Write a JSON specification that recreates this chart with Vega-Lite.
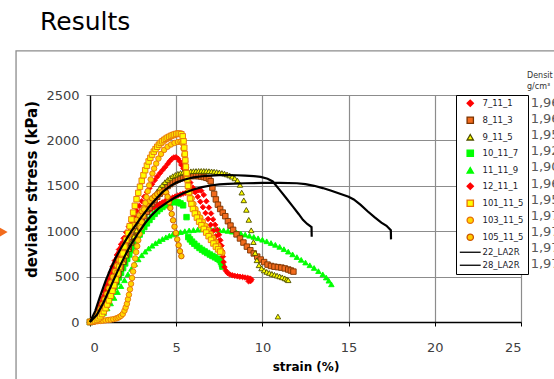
{
"$schema":"https://vega.github.io/schema/vega-lite/v6.json",
"width":431,"height":227,
"autosize":"none",
"padding":{"left":90,"top":95,"right":33,"bottom":57},
"title":{"text":"Results","anchor":"start","frame":"group","dx":-50,"offset":15,"fontSize":25,"font":"DejaVu Sans","fontWeight":"normal","color":"#000000"},
"datasets":{
"pts":[
{"s":"11_11_9","x":0,"y":0},{"s":"11_11_9","x":0.2,"y":10},{"s":"11_11_9","x":0.4,"y":30},{"s":"11_11_9","x":0.6,"y":60},{"s":"11_11_9","x":0.8,"y":100},{"s":"11_11_9","x":1.0,"y":150},{"s":"11_11_9","x":1.2,"y":205},{"s":"11_11_9","x":1.4,"y":265},{"s":"11_11_9","x":1.6,"y":330},{"s":"11_11_9","x":1.8,"y":395},{"s":"11_11_9","x":2.0,"y":460},{"s":"11_11_9","x":2.2,"y":525},{"s":"11_11_9","x":2.4,"y":585},{"s":"11_11_9","x":2.6,"y":640},{"s":"11_11_9","x":2.8,"y":690},{"s":"11_11_9","x":3.0,"y":735},{"s":"11_11_9","x":3.2,"y":775},{"s":"11_11_9","x":3.4,"y":810},{"s":"11_11_9","x":3.6,"y":840},{"s":"11_11_9","x":3.8,"y":868},{"s":"11_11_9","x":4.0,"y":892},{"s":"11_11_9","x":4.2,"y":914},{"s":"11_11_9","x":4.4,"y":933},{"s":"11_11_9","x":4.6,"y":950},{"s":"11_11_9","x":4.8,"y":964},{"s":"11_11_9","x":5.0,"y":977},{"s":"11_11_9","x":5.25,"y":990},{"s":"11_11_9","x":5.5,"y":1000},{"s":"11_11_9","x":5.75,"y":1008},{"s":"11_11_9","x":6.0,"y":1013},{"s":"11_11_9","x":6.25,"y":1017},{"s":"11_11_9","x":6.5,"y":1019},{"s":"11_11_9","x":6.75,"y":1020},{"s":"11_11_9","x":7.0,"y":1020},{"s":"11_11_9","x":7.25,"y":1018},{"s":"11_11_9","x":7.5,"y":1015},{"s":"11_11_9","x":7.75,"y":1010},{"s":"11_11_9","x":8.0,"y":1003},{"s":"11_11_9","x":8.25,"y":995},{"s":"11_11_9","x":8.5,"y":985},{"s":"11_11_9","x":8.75,"y":975},{"s":"11_11_9","x":9.0,"y":963},{"s":"11_11_9","x":9.25,"y":950},{"s":"11_11_9","x":9.5,"y":937},{"s":"11_11_9","x":9.75,"y":922},{"s":"11_11_9","x":10.0,"y":906},{"s":"11_11_9","x":10.25,"y":889},{"s":"11_11_9","x":10.5,"y":870},{"s":"11_11_9","x":10.75,"y":850},{"s":"11_11_9","x":11.0,"y":828},{"s":"11_11_9","x":11.25,"y":802},{"s":"11_11_9","x":11.5,"y":775},{"s":"11_11_9","x":11.75,"y":745},{"s":"11_11_9","x":12.0,"y":715},{"s":"11_11_9","x":12.25,"y":685},{"s":"11_11_9","x":12.5,"y":655},{"s":"11_11_9","x":12.75,"y":625},{"s":"11_11_9","x":13.0,"y":595},{"s":"11_11_9","x":13.25,"y":560},{"s":"11_11_9","x":13.5,"y":525},{"s":"11_11_9","x":13.7,"y":490},{"s":"11_11_9","x":13.85,"y":455},{"s":"11_11_9","x":14.0,"y":415},
{"s":"10_11_7","x":0,"y":0},{"s":"10_11_7","x":0.12,"y":5},{"s":"10_11_7","x":0.24,"y":15},{"s":"10_11_7","x":0.36,"y":30},{"s":"10_11_7","x":0.48,"y":52},{"s":"10_11_7","x":0.6,"y":80},{"s":"10_11_7","x":0.72,"y":113},{"s":"10_11_7","x":0.84,"y":150},{"s":"10_11_7","x":0.96,"y":192},{"s":"10_11_7","x":1.08,"y":237},{"s":"10_11_7","x":1.2,"y":285},{"s":"10_11_7","x":1.32,"y":335},{"s":"10_11_7","x":1.44,"y":386},{"s":"10_11_7","x":1.56,"y":438},{"s":"10_11_7","x":1.68,"y":490},{"s":"10_11_7","x":1.8,"y":542},{"s":"10_11_7","x":1.92,"y":594},{"s":"10_11_7","x":2.04,"y":645},{"s":"10_11_7","x":2.16,"y":695},{"s":"10_11_7","x":2.28,"y":744},{"s":"10_11_7","x":2.4,"y":791},{"s":"10_11_7","x":2.52,"y":837},{"s":"10_11_7","x":2.64,"y":881},{"s":"10_11_7","x":2.76,"y":923},{"s":"10_11_7","x":2.88,"y":963},{"s":"10_11_7","x":3.0,"y":1001},{"s":"10_11_7","x":3.15,"y":1045},{"s":"10_11_7","x":3.3,"y":1086},{"s":"10_11_7","x":3.45,"y":1124},{"s":"10_11_7","x":3.6,"y":1159},{"s":"10_11_7","x":3.75,"y":1191},{"s":"10_11_7","x":3.9,"y":1220},{"s":"10_11_7","x":4.05,"y":1245},{"s":"10_11_7","x":4.2,"y":1267},{"s":"10_11_7","x":4.35,"y":1286},{"s":"10_11_7","x":4.5,"y":1301},{"s":"10_11_7","x":4.65,"y":1313},{"s":"10_11_7","x":4.8,"y":1320},{"s":"10_11_7","x":4.95,"y":1322},{"s":"10_11_7","x":5.1,"y":1318},{"s":"10_11_7","x":5.25,"y":1306},{"s":"10_11_7","x":5.4,"y":1285},{"s":"10_11_7","x":5.6,"y":1155},{"s":"10_11_7","x":5.7,"y":935},{"s":"10_11_7","x":5.8,"y":910},{"s":"10_11_7","x":5.92,"y":885},{"s":"10_11_7","x":6.05,"y":862},{"s":"10_11_7","x":6.2,"y":838},{"s":"10_11_7","x":6.35,"y":815},{"s":"10_11_7","x":6.5,"y":795},{"s":"10_11_7","x":6.65,"y":777},{"s":"10_11_7","x":6.8,"y":760},{"s":"10_11_7","x":6.95,"y":743},{"s":"10_11_7","x":7.1,"y":727},{"s":"10_11_7","x":7.25,"y":712},{"s":"10_11_7","x":7.4,"y":697},{"s":"10_11_7","x":7.52,"y":682},{"s":"10_11_7","x":7.6,"y":660},{"s":"10_11_7","x":7.65,"y":635},{"s":"10_11_7","x":7.68,"y":610},
{"s":"12_11_1","x":0,"y":0},{"s":"12_11_1","x":0.12,"y":15},{"s":"12_11_1","x":0.24,"y":40},{"s":"12_11_1","x":0.36,"y":75},{"s":"12_11_1","x":0.48,"y":120},{"s":"12_11_1","x":0.6,"y":175},{"s":"12_11_1","x":0.72,"y":235},{"s":"12_11_1","x":0.84,"y":300},{"s":"12_11_1","x":0.96,"y":370},{"s":"12_11_1","x":1.08,"y":440},{"s":"12_11_1","x":1.2,"y":510},{"s":"12_11_1","x":1.32,"y":578},{"s":"12_11_1","x":1.44,"y":645},{"s":"12_11_1","x":1.56,"y":708},{"s":"12_11_1","x":1.68,"y":768},{"s":"12_11_1","x":1.8,"y":823},{"s":"12_11_1","x":1.95,"y":885},{"s":"12_11_1","x":2.1,"y":940},{"s":"12_11_1","x":2.25,"y":988},{"s":"12_11_1","x":2.4,"y":1030},{"s":"12_11_1","x":2.55,"y":1068},{"s":"12_11_1","x":2.7,"y":1102},{"s":"12_11_1","x":2.85,"y":1132},{"s":"12_11_1","x":3.0,"y":1160},{"s":"12_11_1","x":3.15,"y":1185},{"s":"12_11_1","x":3.3,"y":1208},{"s":"12_11_1","x":3.45,"y":1230},{"s":"12_11_1","x":3.6,"y":1250},{"s":"12_11_1","x":3.75,"y":1268},{"s":"12_11_1","x":3.9,"y":1285},{"s":"12_11_1","x":4.05,"y":1301},{"s":"12_11_1","x":4.2,"y":1316},{"s":"12_11_1","x":4.35,"y":1330},{"s":"12_11_1","x":4.5,"y":1344},{"s":"12_11_1","x":4.65,"y":1357},{"s":"12_11_1","x":4.8,"y":1370},{"s":"12_11_1","x":4.95,"y":1382},{"s":"12_11_1","x":5.1,"y":1393},{"s":"12_11_1","x":5.25,"y":1404},{"s":"12_11_1","x":5.4,"y":1414},{"s":"12_11_1","x":5.55,"y":1423},{"s":"12_11_1","x":5.7,"y":1431},{"s":"12_11_1","x":5.85,"y":1438},{"s":"12_11_1","x":6.0,"y":1444},{"s":"12_11_1","x":6.15,"y":1448},{"s":"12_11_1","x":6.3,"y":1450},{"s":"12_11_1","x":6.45,"y":1446},{"s":"12_11_1","x":6.6,"y":1400},{"s":"12_11_1","x":6.75,"y":1330},{"s":"12_11_1","x":6.9,"y":1260},{"s":"12_11_1","x":7.02,"y":1195},{"s":"12_11_1","x":7.14,"y":1130},{"s":"12_11_1","x":7.26,"y":1070},{"s":"12_11_1","x":7.38,"y":1015},{"s":"12_11_1","x":7.48,"y":960},{"s":"12_11_1","x":7.56,"y":900},{"s":"12_11_1","x":7.62,"y":840},{"s":"12_11_1","x":7.67,"y":780},{"s":"12_11_1","x":7.71,"y":720},{"s":"12_11_1","x":7.75,"y":660},{"s":"12_11_1","x":7.8,"y":605},{"s":"12_11_1","x":7.88,"y":565},{"s":"12_11_1","x":7.98,"y":540},{"s":"12_11_1","x":8.1,"y":525},{"s":"12_11_1","x":8.25,"y":515},{"s":"12_11_1","x":8.4,"y":508},{"s":"12_11_1","x":8.55,"y":503},{"s":"12_11_1","x":8.7,"y":499},{"s":"12_11_1","x":8.85,"y":495},{"s":"12_11_1","x":9.0,"y":490},{"s":"12_11_1","x":9.15,"y":485},{"s":"12_11_1","x":9.28,"y":478},{"s":"12_11_1","x":9.36,"y":468},{"s":"12_11_1","x":9.32,"y":452},{"s":"12_11_1","x":9.2,"y":448},
{"s":"7_11_1","x":0,"y":0},{"s":"7_11_1","x":0.12,"y":20},{"s":"7_11_1","x":0.24,"y":50},{"s":"7_11_1","x":0.36,"y":90},{"s":"7_11_1","x":0.48,"y":140},{"s":"7_11_1","x":0.6,"y":200},{"s":"7_11_1","x":0.72,"y":265},{"s":"7_11_1","x":0.84,"y":335},{"s":"7_11_1","x":0.96,"y":405},{"s":"7_11_1","x":1.08,"y":475},{"s":"7_11_1","x":1.2,"y":545},{"s":"7_11_1","x":1.32,"y":612},{"s":"7_11_1","x":1.44,"y":676},{"s":"7_11_1","x":1.56,"y":738},{"s":"7_11_1","x":1.68,"y":798},{"s":"7_11_1","x":1.8,"y":855},{"s":"7_11_1","x":1.95,"y":922},{"s":"7_11_1","x":2.1,"y":987},{"s":"7_11_1","x":2.25,"y":1050},{"s":"7_11_1","x":2.4,"y":1110},{"s":"7_11_1","x":2.55,"y":1168},{"s":"7_11_1","x":2.7,"y":1224},{"s":"7_11_1","x":2.85,"y":1278},{"s":"7_11_1","x":3.0,"y":1330},{"s":"7_11_1","x":3.15,"y":1380},{"s":"7_11_1","x":3.3,"y":1428},{"s":"7_11_1","x":3.45,"y":1474},{"s":"7_11_1","x":3.6,"y":1518},{"s":"7_11_1","x":3.75,"y":1560},{"s":"7_11_1","x":3.9,"y":1600},{"s":"7_11_1","x":4.05,"y":1637},{"s":"7_11_1","x":4.2,"y":1672},{"s":"7_11_1","x":4.35,"y":1705},{"s":"7_11_1","x":4.5,"y":1740},{"s":"7_11_1","x":4.62,"y":1770},{"s":"7_11_1","x":4.74,"y":1795},{"s":"7_11_1","x":4.86,"y":1812},{"s":"7_11_1","x":4.98,"y":1815},{"s":"7_11_1","x":5.1,"y":1800},{"s":"7_11_1","x":5.2,"y":1770},{"s":"7_11_1","x":5.3,"y":1730},{"s":"7_11_1","x":5.42,"y":1690},{"s":"7_11_1","x":5.55,"y":1640},{"s":"7_11_1","x":5.68,"y":1590},{"s":"7_11_1","x":5.82,"y":1535},{"s":"7_11_1","x":5.96,"y":1480},{"s":"7_11_1","x":6.1,"y":1430},{"s":"7_11_1","x":6.25,"y":1380},{"s":"7_11_1","x":6.4,"y":1325},{"s":"7_11_1","x":6.55,"y":1265},{"s":"7_11_1","x":6.7,"y":1200},{"s":"7_11_1","x":6.85,"y":1135},{"s":"7_11_1","x":7.0,"y":1070},{"s":"7_11_1","x":7.15,"y":1005},{"s":"7_11_1","x":7.3,"y":945},{"s":"7_11_1","x":7.45,"y":890},{"s":"7_11_1","x":7.6,"y":840},
{"s":"8_11_3","x":0,"y":0},{"s":"8_11_3","x":0.15,"y":8},{"s":"8_11_3","x":0.3,"y":25},{"s":"8_11_3","x":0.45,"y":52},{"s":"8_11_3","x":0.6,"y":90},{"s":"8_11_3","x":0.75,"y":138},{"s":"8_11_3","x":0.9,"y":194},{"s":"8_11_3","x":1.05,"y":256},{"s":"8_11_3","x":1.2,"y":322},{"s":"8_11_3","x":1.35,"y":392},{"s":"8_11_3","x":1.5,"y":463},{"s":"8_11_3","x":1.65,"y":535},{"s":"8_11_3","x":1.8,"y":606},{"s":"8_11_3","x":1.95,"y":676},{"s":"8_11_3","x":2.1,"y":745},{"s":"8_11_3","x":2.25,"y":812},{"s":"8_11_3","x":2.4,"y":877},{"s":"8_11_3","x":2.55,"y":940},{"s":"8_11_3","x":2.7,"y":1000},{"s":"8_11_3","x":2.85,"y":1057},{"s":"8_11_3","x":3.0,"y":1112},{"s":"8_11_3","x":3.15,"y":1164},{"s":"8_11_3","x":3.3,"y":1213},{"s":"8_11_3","x":3.45,"y":1259},{"s":"8_11_3","x":3.6,"y":1302},{"s":"8_11_3","x":3.75,"y":1342},{"s":"8_11_3","x":3.9,"y":1379},{"s":"8_11_3","x":4.05,"y":1413},{"s":"8_11_3","x":4.2,"y":1444},{"s":"8_11_3","x":4.35,"y":1472},{"s":"8_11_3","x":4.5,"y":1497},{"s":"8_11_3","x":4.65,"y":1519},{"s":"8_11_3","x":4.8,"y":1539},{"s":"8_11_3","x":4.95,"y":1556},{"s":"8_11_3","x":5.1,"y":1570},{"s":"8_11_3","x":5.25,"y":1582},{"s":"8_11_3","x":5.4,"y":1592},{"s":"8_11_3","x":5.55,"y":1599},{"s":"8_11_3","x":5.7,"y":1604},{"s":"8_11_3","x":5.85,"y":1607},{"s":"8_11_3","x":6.0,"y":1608},{"s":"8_11_3","x":6.15,"y":1608},{"s":"8_11_3","x":6.3,"y":1606},{"s":"8_11_3","x":6.45,"y":1602},{"s":"8_11_3","x":6.6,"y":1596},{"s":"8_11_3","x":6.75,"y":1588},{"s":"8_11_3","x":6.9,"y":1576},{"s":"8_11_3","x":7.0,"y":1550},{"s":"8_11_3","x":7.1,"y":1480},{"s":"8_11_3","x":7.2,"y":1410},{"s":"8_11_3","x":7.3,"y":1350},{"s":"8_11_3","x":7.42,"y":1292},{"s":"8_11_3","x":7.55,"y":1245},{"s":"8_11_3","x":7.7,"y":1205},{"s":"8_11_3","x":7.85,"y":1165},{"s":"8_11_3","x":8.0,"y":1110},{"s":"8_11_3","x":8.15,"y":1062},{"s":"8_11_3","x":8.3,"y":1015},{"s":"8_11_3","x":8.5,"y":965},{"s":"8_11_3","x":8.7,"y":920},{"s":"8_11_3","x":8.9,"y":875},{"s":"8_11_3","x":9.1,"y":830},{"s":"8_11_3","x":9.3,"y":790},{"s":"8_11_3","x":9.5,"y":755},{"s":"8_11_3","x":9.7,"y":720},{"s":"8_11_3","x":9.9,"y":688},{"s":"8_11_3","x":10.1,"y":660},{"s":"8_11_3","x":10.3,"y":632},{"s":"8_11_3","x":10.5,"y":617},{"s":"8_11_3","x":10.7,"y":609},{"s":"8_11_3","x":10.9,"y":604},{"s":"8_11_3","x":11.1,"y":599},{"s":"8_11_3","x":11.3,"y":590},{"s":"8_11_3","x":11.5,"y":578},{"s":"8_11_3","x":11.65,"y":567},{"s":"8_11_3","x":11.8,"y":555},
{"s":"9_11_5","x":0,"y":0},{"s":"9_11_5","x":0.15,"y":10},{"s":"9_11_5","x":0.3,"y":28},{"s":"9_11_5","x":0.45,"y":55},{"s":"9_11_5","x":0.6,"y":92},{"s":"9_11_5","x":0.75,"y":138},{"s":"9_11_5","x":0.9,"y":190},{"s":"9_11_5","x":1.05,"y":248},{"s":"9_11_5","x":1.2,"y":310},{"s":"9_11_5","x":1.35,"y":376},{"s":"9_11_5","x":1.5,"y":445},{"s":"9_11_5","x":1.65,"y":516},{"s":"9_11_5","x":1.8,"y":588},{"s":"9_11_5","x":1.95,"y":660},{"s":"9_11_5","x":2.1,"y":732},{"s":"9_11_5","x":2.25,"y":804},{"s":"9_11_5","x":2.4,"y":874},{"s":"9_11_5","x":2.55,"y":942},{"s":"9_11_5","x":2.7,"y":1008},{"s":"9_11_5","x":2.85,"y":1072},{"s":"9_11_5","x":3.0,"y":1133},{"s":"9_11_5","x":3.15,"y":1192},{"s":"9_11_5","x":3.3,"y":1248},{"s":"9_11_5","x":3.45,"y":1301},{"s":"9_11_5","x":3.6,"y":1350},{"s":"9_11_5","x":3.75,"y":1396},{"s":"9_11_5","x":3.9,"y":1438},{"s":"9_11_5","x":4.05,"y":1476},{"s":"9_11_5","x":4.2,"y":1510},{"s":"9_11_5","x":4.35,"y":1540},{"s":"9_11_5","x":4.5,"y":1566},{"s":"9_11_5","x":4.65,"y":1588},{"s":"9_11_5","x":4.8,"y":1606},{"s":"9_11_5","x":4.95,"y":1620},{"s":"9_11_5","x":5.1,"y":1632},{"s":"9_11_5","x":5.25,"y":1641},{"s":"9_11_5","x":5.4,"y":1648},{"s":"9_11_5","x":5.55,"y":1653},{"s":"9_11_5","x":5.7,"y":1657},{"s":"9_11_5","x":5.85,"y":1660},{"s":"9_11_5","x":6.0,"y":1662},{"s":"9_11_5","x":6.15,"y":1663},{"s":"9_11_5","x":6.3,"y":1664},{"s":"9_11_5","x":6.45,"y":1664},{"s":"9_11_5","x":6.6,"y":1664},{"s":"9_11_5","x":6.75,"y":1663},{"s":"9_11_5","x":6.9,"y":1661},{"s":"9_11_5","x":7.05,"y":1659},{"s":"9_11_5","x":7.2,"y":1656},{"s":"9_11_5","x":7.35,"y":1652},{"s":"9_11_5","x":7.5,"y":1647},{"s":"9_11_5","x":7.65,"y":1641},{"s":"9_11_5","x":7.8,"y":1634},{"s":"9_11_5","x":7.95,"y":1625},{"s":"9_11_5","x":8.1,"y":1614},{"s":"9_11_5","x":8.25,"y":1600},{"s":"9_11_5","x":8.4,"y":1582},{"s":"9_11_5","x":8.55,"y":1558},{"s":"9_11_5","x":8.7,"y":1510},{"s":"9_11_5","x":8.8,"y":1425},{"s":"9_11_5","x":8.92,"y":1340},{"s":"9_11_5","x":9.07,"y":1235},{"s":"9_11_5","x":9.21,"y":1125},{"s":"9_11_5","x":9.35,"y":1010},{"s":"9_11_5","x":9.48,"y":880},{"s":"9_11_5","x":9.58,"y":760},{"s":"9_11_5","x":9.68,"y":680},{"s":"9_11_5","x":9.8,"y":625},{"s":"9_11_5","x":9.95,"y":590},{"s":"9_11_5","x":10.1,"y":568},{"s":"9_11_5","x":10.25,"y":552},{"s":"9_11_5","x":10.4,"y":540},{"s":"9_11_5","x":10.55,"y":530},{"s":"9_11_5","x":10.7,"y":520},{"s":"9_11_5","x":10.85,"y":511},{"s":"9_11_5","x":11.0,"y":502},{"s":"9_11_5","x":11.15,"y":492},{"s":"9_11_5","x":11.3,"y":481},{"s":"9_11_5","x":11.42,"y":470},{"s":"9_11_5","x":11.5,"y":460},{"s":"9_11_5","x":10.9,"y":60},
{"s":"105_11_5","x":0,"y":0},{"s":"105_11_5","x":0.12,"y":10},{"s":"105_11_5","x":0.24,"y":30},{"s":"105_11_5","x":0.36,"y":60},{"s":"105_11_5","x":0.48,"y":100},{"s":"105_11_5","x":0.6,"y":145},{"s":"105_11_5","x":0.72,"y":195},{"s":"105_11_5","x":0.84,"y":250},{"s":"105_11_5","x":0.96,"y":310},{"s":"105_11_5","x":1.08,"y":372},{"s":"105_11_5","x":1.2,"y":435},{"s":"105_11_5","x":1.32,"y":498},{"s":"105_11_5","x":1.44,"y":560},{"s":"105_11_5","x":1.56,"y":622},{"s":"105_11_5","x":1.68,"y":683},{"s":"105_11_5","x":1.8,"y":742},{"s":"105_11_5","x":1.92,"y":800},{"s":"105_11_5","x":2.04,"y":856},{"s":"105_11_5","x":2.16,"y":910},{"s":"105_11_5","x":2.28,"y":962},{"s":"105_11_5","x":2.4,"y":1012},{"s":"105_11_5","x":2.55,"y":1070},{"s":"105_11_5","x":2.7,"y":1125},{"s":"105_11_5","x":2.85,"y":1175},{"s":"105_11_5","x":3.0,"y":1220},{"s":"105_11_5","x":3.15,"y":1262},{"s":"105_11_5","x":3.3,"y":1300},{"s":"105_11_5","x":3.45,"y":1333},{"s":"105_11_5","x":3.6,"y":1362},{"s":"105_11_5","x":3.75,"y":1387},{"s":"105_11_5","x":3.9,"y":1408},{"s":"105_11_5","x":4.05,"y":1424},{"s":"105_11_5","x":4.2,"y":1434},{"s":"105_11_5","x":4.32,"y":1436},{"s":"105_11_5","x":4.42,"y":1425},{"s":"105_11_5","x":4.5,"y":1380},{"s":"105_11_5","x":4.58,"y":1320},{"s":"105_11_5","x":4.66,"y":1255},{"s":"105_11_5","x":4.74,"y":1190},{"s":"105_11_5","x":4.82,"y":1120},{"s":"105_11_5","x":4.9,"y":1050},{"s":"105_11_5","x":4.98,"y":980},{"s":"105_11_5","x":5.06,"y":910},{"s":"105_11_5","x":5.14,"y":845},{"s":"105_11_5","x":5.22,"y":780},{"s":"105_11_5","x":5.3,"y":725},
{"s":"103_11_5","x":0,"y":0},{"s":"103_11_5","x":0.15,"y":3},{"s":"103_11_5","x":0.3,"y":6},{"s":"103_11_5","x":0.45,"y":9},{"s":"103_11_5","x":0.6,"y":12},{"s":"103_11_5","x":0.75,"y":15},{"s":"103_11_5","x":0.9,"y":18},{"s":"103_11_5","x":1.05,"y":22},{"s":"103_11_5","x":1.2,"y":26},{"s":"103_11_5","x":1.35,"y":31},{"s":"103_11_5","x":1.5,"y":38},{"s":"103_11_5","x":1.6,"y":45},{"s":"103_11_5","x":1.7,"y":55},{"s":"103_11_5","x":1.8,"y":68},{"s":"103_11_5","x":1.9,"y":88},{"s":"103_11_5","x":2.0,"y":125},{"s":"103_11_5","x":2.07,"y":160},{"s":"103_11_5","x":2.14,"y":200},{"s":"103_11_5","x":2.2,"y":250},{"s":"103_11_5","x":2.26,"y":300},{"s":"103_11_5","x":2.32,"y":360},{"s":"103_11_5","x":2.38,"y":420},{"s":"103_11_5","x":2.44,"y":485},{"s":"103_11_5","x":2.5,"y":555},{"s":"103_11_5","x":2.56,"y":625},{"s":"103_11_5","x":2.62,"y":700},{"s":"103_11_5","x":2.68,"y":770},{"s":"103_11_5","x":2.74,"y":835},{"s":"103_11_5","x":2.8,"y":900},{"s":"103_11_5","x":2.87,"y":970},{"s":"103_11_5","x":2.94,"y":1040},{"s":"103_11_5","x":3.0,"y":1100},{"s":"103_11_5","x":3.07,"y":1170},{"s":"103_11_5","x":3.14,"y":1240},{"s":"103_11_5","x":3.21,"y":1310},{"s":"103_11_5","x":3.28,"y":1375},{"s":"103_11_5","x":3.35,"y":1440},{"s":"103_11_5","x":3.43,"y":1505},{"s":"103_11_5","x":3.52,"y":1570},{"s":"103_11_5","x":3.62,"y":1635},{"s":"103_11_5","x":3.72,"y":1690},{"s":"103_11_5","x":3.84,"y":1745},{"s":"103_11_5","x":3.97,"y":1800},{"s":"103_11_5","x":4.12,"y":1850},{"s":"103_11_5","x":4.3,"y":1895},{"s":"103_11_5","x":4.5,"y":1930},{"s":"103_11_5","x":4.7,"y":1955},{"s":"103_11_5","x":4.9,"y":1972},{"s":"103_11_5","x":5.1,"y":1983},{"s":"103_11_5","x":5.25,"y":1985},{"s":"103_11_5","x":5.35,"y":1972},{"s":"103_11_5","x":5.42,"y":1910},{"s":"103_11_5","x":5.47,"y":1840},{"s":"103_11_5","x":5.52,"y":1770},{"s":"103_11_5","x":5.57,"y":1700},{"s":"103_11_5","x":5.62,"y":1630},{"s":"103_11_5","x":5.67,"y":1560},{"s":"103_11_5","x":5.73,"y":1490},{"s":"103_11_5","x":5.8,"y":1425},{"s":"103_11_5","x":5.9,"y":1360},{"s":"103_11_5","x":6.0,"y":1300},{"s":"103_11_5","x":6.12,"y":1245},{"s":"103_11_5","x":6.25,"y":1195},{"s":"103_11_5","x":6.4,"y":1150},{"s":"103_11_5","x":6.55,"y":1105},{"s":"103_11_5","x":6.7,"y":1060},{"s":"103_11_5","x":6.85,"y":1015},{"s":"103_11_5","x":7.0,"y":970},{"s":"103_11_5","x":7.15,"y":925},{"s":"103_11_5","x":7.3,"y":880},{"s":"103_11_5","x":7.45,"y":835},{"s":"103_11_5","x":7.58,"y":795},{"s":"103_11_5","x":7.68,"y":760},
{"s":"101_11_5","x":0,"y":0},{"s":"101_11_5","x":0.1,"y":3},{"s":"101_11_5","x":0.2,"y":8},{"s":"101_11_5","x":0.3,"y":16},{"s":"101_11_5","x":0.4,"y":27},{"s":"101_11_5","x":0.5,"y":42},{"s":"101_11_5","x":0.6,"y":62},{"s":"101_11_5","x":0.7,"y":87},{"s":"101_11_5","x":0.8,"y":117},{"s":"101_11_5","x":0.9,"y":152},{"s":"101_11_5","x":1.0,"y":192},{"s":"101_11_5","x":1.1,"y":238},{"s":"101_11_5","x":1.2,"y":289},{"s":"101_11_5","x":1.3,"y":344},{"s":"101_11_5","x":1.4,"y":404},{"s":"101_11_5","x":1.5,"y":468},{"s":"101_11_5","x":1.6,"y":536},{"s":"101_11_5","x":1.7,"y":607},{"s":"101_11_5","x":1.8,"y":680},{"s":"101_11_5","x":1.9,"y":755},{"s":"101_11_5","x":2.0,"y":830},{"s":"101_11_5","x":2.1,"y":905},{"s":"101_11_5","x":2.2,"y":980},{"s":"101_11_5","x":2.3,"y":1055},{"s":"101_11_5","x":2.4,"y":1130},{"s":"101_11_5","x":2.5,"y":1205},{"s":"101_11_5","x":2.6,"y":1280},{"s":"101_11_5","x":2.7,"y":1352},{"s":"101_11_5","x":2.8,"y":1422},{"s":"101_11_5","x":2.9,"y":1490},{"s":"101_11_5","x":3.0,"y":1556},{"s":"101_11_5","x":3.1,"y":1616},{"s":"101_11_5","x":3.2,"y":1672},{"s":"101_11_5","x":3.3,"y":1722},{"s":"101_11_5","x":3.4,"y":1768},{"s":"101_11_5","x":3.5,"y":1808},{"s":"101_11_5","x":3.6,"y":1844},{"s":"101_11_5","x":3.7,"y":1876},{"s":"101_11_5","x":3.8,"y":1904},{"s":"101_11_5","x":3.9,"y":1930},{"s":"101_11_5","x":4.0,"y":1953},{"s":"101_11_5","x":4.1,"y":1973},{"s":"101_11_5","x":4.2,"y":1990},{"s":"101_11_5","x":4.3,"y":2005},{"s":"101_11_5","x":4.4,"y":2018},{"s":"101_11_5","x":4.5,"y":2030},{"s":"101_11_5","x":4.6,"y":2040},{"s":"101_11_5","x":4.7,"y":2050},{"s":"101_11_5","x":4.8,"y":2058},{"s":"101_11_5","x":4.9,"y":2065},{"s":"101_11_5","x":5.0,"y":2071},{"s":"101_11_5","x":5.1,"y":2075},{"s":"101_11_5","x":5.2,"y":2075},{"s":"101_11_5","x":5.3,"y":2068},{"s":"101_11_5","x":5.38,"y":2045},{"s":"101_11_5","x":5.43,"y":1990},{"s":"101_11_5","x":5.47,"y":1920},{"s":"101_11_5","x":5.5,"y":1850},{"s":"101_11_5","x":5.53,"y":1780},{"s":"101_11_5","x":5.56,"y":1710},{"s":"101_11_5","x":5.6,"y":1640},{"s":"101_11_5","x":5.64,"y":1570},{"s":"101_11_5","x":5.68,"y":1500},{"s":"101_11_5","x":5.73,"y":1430},{"s":"101_11_5","x":5.8,"y":1360},{"s":"101_11_5","x":5.88,"y":1300},{"s":"101_11_5","x":5.97,"y":1245},{"s":"101_11_5","x":6.08,"y":1195},{"s":"101_11_5","x":6.2,"y":1150},{"s":"101_11_5","x":6.33,"y":1105},{"s":"101_11_5","x":6.46,"y":1065},{"s":"101_11_5","x":6.6,"y":1025},{"s":"101_11_5","x":6.74,"y":985},{"s":"101_11_5","x":6.88,"y":945},{"s":"101_11_5","x":7.02,"y":905},{"s":"101_11_5","x":7.16,"y":865},{"s":"101_11_5","x":7.3,"y":830},{"s":"101_11_5","x":7.43,"y":800},{"s":"101_11_5","x":7.55,"y":775}
],
"lines":[
{"s":"22_LA2R","x":0,"y":0},{"s":"22_LA2R","x":0.3,"y":120},{"s":"22_LA2R","x":0.6,"y":290},{"s":"22_LA2R","x":0.9,"y":450},{"s":"22_LA2R","x":1.2,"y":590},{"s":"22_LA2R","x":1.5,"y":710},{"s":"22_LA2R","x":1.8,"y":815},{"s":"22_LA2R","x":2.1,"y":910},{"s":"22_LA2R","x":2.4,"y":1000},{"s":"22_LA2R","x":2.7,"y":1080},{"s":"22_LA2R","x":3.0,"y":1160},{"s":"22_LA2R","x":3.4,"y":1260},{"s":"22_LA2R","x":3.8,"y":1350},{"s":"22_LA2R","x":4.2,"y":1430},{"s":"22_LA2R","x":4.6,"y":1490},{"s":"22_LA2R","x":5.0,"y":1535},{"s":"22_LA2R","x":5.5,"y":1570},{"s":"22_LA2R","x":6.0,"y":1592},{"s":"22_LA2R","x":6.5,"y":1605},{"s":"22_LA2R","x":7.0,"y":1613},{"s":"22_LA2R","x":7.5,"y":1617},{"s":"22_LA2R","x":8.0,"y":1618},{"s":"22_LA2R","x":8.5,"y":1616},{"s":"22_LA2R","x":9.0,"y":1612},{"s":"22_LA2R","x":9.5,"y":1606},{"s":"22_LA2R","x":9.9,"y":1598},{"s":"22_LA2R","x":10.3,"y":1578},{"s":"22_LA2R","x":10.6,"y":1548},{"s":"22_LA2R","x":11.0,"y":1455},{"s":"22_LA2R","x":11.4,"y":1360},{"s":"22_LA2R","x":11.77,"y":1270},{"s":"22_LA2R","x":12.1,"y":1190},{"s":"22_LA2R","x":12.35,"y":1125},{"s":"22_LA2R","x":12.6,"y":1080},{"s":"22_LA2R","x":12.85,"y":1045},{"s":"22_LA2R","x":12.86,"y":940},
{"s":"28_LA2R","x":0,"y":0},{"s":"28_LA2R","x":0.4,"y":80},{"s":"28_LA2R","x":0.8,"y":220},{"s":"28_LA2R","x":1.2,"y":390},{"s":"28_LA2R","x":1.6,"y":560},{"s":"28_LA2R","x":2.0,"y":720},{"s":"28_LA2R","x":2.4,"y":860},{"s":"28_LA2R","x":2.8,"y":980},{"s":"28_LA2R","x":3.2,"y":1090},{"s":"28_LA2R","x":3.6,"y":1180},{"s":"28_LA2R","x":4.0,"y":1255},{"s":"28_LA2R","x":4.5,"y":1320},{"s":"28_LA2R","x":5.0,"y":1380},{"s":"28_LA2R","x":5.5,"y":1425},{"s":"28_LA2R","x":6.0,"y":1460},{"s":"28_LA2R","x":6.5,"y":1485},{"s":"28_LA2R","x":7.0,"y":1503},{"s":"28_LA2R","x":7.5,"y":1515},{"s":"28_LA2R","x":8.0,"y":1522},{"s":"28_LA2R","x":9.0,"y":1528},{"s":"28_LA2R","x":10.0,"y":1532},{"s":"28_LA2R","x":11.0,"y":1533},{"s":"28_LA2R","x":12.0,"y":1528},{"s":"28_LA2R","x":12.5,"y":1518},{"s":"28_LA2R","x":13.0,"y":1500},{"s":"28_LA2R","x":13.5,"y":1475},{"s":"28_LA2R","x":14.0,"y":1445},{"s":"28_LA2R","x":14.5,"y":1412},{"s":"28_LA2R","x":15.0,"y":1380},{"s":"28_LA2R","x":15.3,"y":1350},{"s":"28_LA2R","x":15.7,"y":1290},{"s":"28_LA2R","x":16.1,"y":1220},{"s":"28_LA2R","x":16.5,"y":1155},{"s":"28_LA2R","x":16.9,"y":1095},{"s":"28_LA2R","x":17.2,"y":1060},{"s":"28_LA2R","x":17.45,"y":1010},{"s":"28_LA2R","x":17.46,"y":910}
],
"dens":[
{"label":"1,96","row":1},{"label":"1,96","row":2},{"label":"1,95","row":3},{"label":"1,92","row":4},{"label":"1,90","row":5},{"label":"1,96","row":6},{"label":"1,95","row":7},{"label":"1,97","row":8},{"label":"1,97","row":9},{"label":"1,97","row":10},{"label":"1,97","row":11}
]
},
"layer":[
{"layer":[
{"data":{"values":[{}]},
 "mark":{"type":"rect","fill":"transparent","stroke":"#8c8c8c","strokeWidth":1.3},
 "encoding":{
  "x":{"datum":-4.29,"type":"quantitative","scale":{"domain":[0,25],"nice":false}},
  "x2":{"datum":40},
  "y":{"datum":2987,"type":"quantitative","scale":{"domain":[0,2500],"nice":false}},
  "y2":{"datum":-1500}
 }},
{"data":{"values":[{"note":"arrow"}]},
 "mark":{"type":"point","shape":"triangle-right","filled":true,"size":220,"color":"#f26b1d","opacity":1},
 "encoding":{
  "x":{"datum":-5.15,"type":"quantitative","scale":{"domain":[0,25],"nice":false}},
  "y":{"datum":990,"type":"quantitative","scale":{"domain":[0,2500],"nice":false}}
 }},
{"data":{"name":"pts"},
 "mark":{"type":"point","filled":true,"size":30,"strokeWidth":0.9,"opacity":1},
 "encoding":{
  "x":{"field":"x","type":"quantitative","scale":{"domain":[0,25],"nice":false},"axis":{"title":"strain (%)","values":[0,5,10,15,20,25],"format":"d"}},
  "y":{"field":"y","type":"quantitative","scale":{"domain":[0,2500],"nice":false},"axis":{"title":"deviator stress (kPa)","values":[0,500,1000,1500,2000,2500],"format":"d","titleY":94}},
  "fill":{"field":"s","type":"nominal","scale":{"domain":["7_11_1","8_11_3","9_11_5","10_11_7","11_11_9","12_11_1","101_11_5","103_11_5","105_11_5","22_LA2R","28_LA2R"],"range":["#ff0000","#f26b1d","#ffff00","#00ff00","#00ff00","#ff0000","#ffff00","#ffd700","#ffcc00","transparent","transparent"]},
   "legend":{"title":null,"orient":"none","legendX":366,"legendY":0,"padding":4,"strokeColor":"#000000","fillColor":"#ffffff","symbolSize":40,"symbolStrokeWidth":1.3,"labelFontSize":8.5,"labelFont":"DejaVu Sans","labelColor":"#1a1a2a","rowPadding":4,"symbolOffset":6,"labelOffset":8}},
  "stroke":{"field":"s","type":"nominal","scale":{"domain":["7_11_1","8_11_3","9_11_5","10_11_7","11_11_9","12_11_1","101_11_5","103_11_5","105_11_5","22_LA2R","28_LA2R"],"range":["#ff0000","#7a3300","#4d4d00","#00ff00","#00ff00","#ff0000","#e8700a","#e8700a","#cc5500","#000000","#000000"]}},
  "shape":{"field":"s","type":"nominal","scale":{"domain":["7_11_1","8_11_3","9_11_5","10_11_7","11_11_9","12_11_1","101_11_5","103_11_5","105_11_5","22_LA2R","28_LA2R"],"range":["diamond","square","triangle-up","square","triangle-up","diamond","square","circle","circle","M-3.3,0H3.3","M-3.3,0H3.3"]}}
 }},
{"data":{"name":"lines"},
 "mark":{"type":"line","strokeWidth":2.2},
 "encoding":{
  "x":{"field":"x","type":"quantitative","scale":{"domain":[0,25],"nice":false}},
  "y":{"field":"y","type":"quantitative","scale":{"domain":[0,2500],"nice":false}},
  "stroke":{"field":"s","type":"nominal","scale":{"domain":["7_11_1","8_11_3","9_11_5","10_11_7","11_11_9","12_11_1","101_11_5","103_11_5","105_11_5","22_LA2R","28_LA2R"],"range":["#ff0000","#7a3300","#4d4d00","#00ff00","#00ff00","#ff0000","#e8700a","#e8700a","#cc5500","#000000","#000000"]}}
 }}
]},
{"layer":[
{"data":{"values":[{"label":"Densit\ng/cm³","row":-0.58}]},
 "mark":{"type":"text","align":"left","baseline":"alphabetic","lineBreak":"\n","lineHeight":11,"fontSize":8,"font":"DejaVu Sans","color":"#333333"},
 "encoding":{
  "x":{"datum":25.35,"type":"quantitative","scale":{"domain":[0,25],"nice":false}},
  "y":{"field":"row","type":"quantitative","scale":{"domain":[0.483,14.627],"reverse":true,"nice":false,"zero":false},"axis":null},
  "text":{"field":"label","type":"nominal"}
 }},
{"data":{"name":"dens"},
 "mark":{"type":"text","align":"left","baseline":"middle","fontSize":13,"font":"DejaVu Sans","color":"#595959"},
 "encoding":{
  "x":{"datum":25.56,"type":"quantitative","scale":{"domain":[0,25],"nice":false}},
  "y":{"field":"row","type":"quantitative","scale":{"domain":[0.483,14.627],"reverse":true,"nice":false,"zero":false},"axis":null},
  "text":{"field":"label","type":"nominal"}
 }}
]}
],
"resolve":{"scale":{"y":"independent"}},
"config":{
 "view":{"stroke":null},
 "axis":{"labelFont":"DejaVu Sans","titleFont":"DejaVu Sans","labelFontSize":13,"labelColor":"#404040","titleColor":"#000000","titleFontWeight":"bold","grid":true,"gridColor":"#8c8c8c","gridWidth":1.2,"domainColor":"#000000","domainWidth":1.3,"tickSize":4},
 "axisX":{"tickColor":"#000000","labelPadding":15,"titleFontSize":12,"titlePadding":7},
 "axisY":{"tickColor":"#8c8c8c","labelPadding":7,"titleFontSize":15,"titlePadding":6}
}
}
